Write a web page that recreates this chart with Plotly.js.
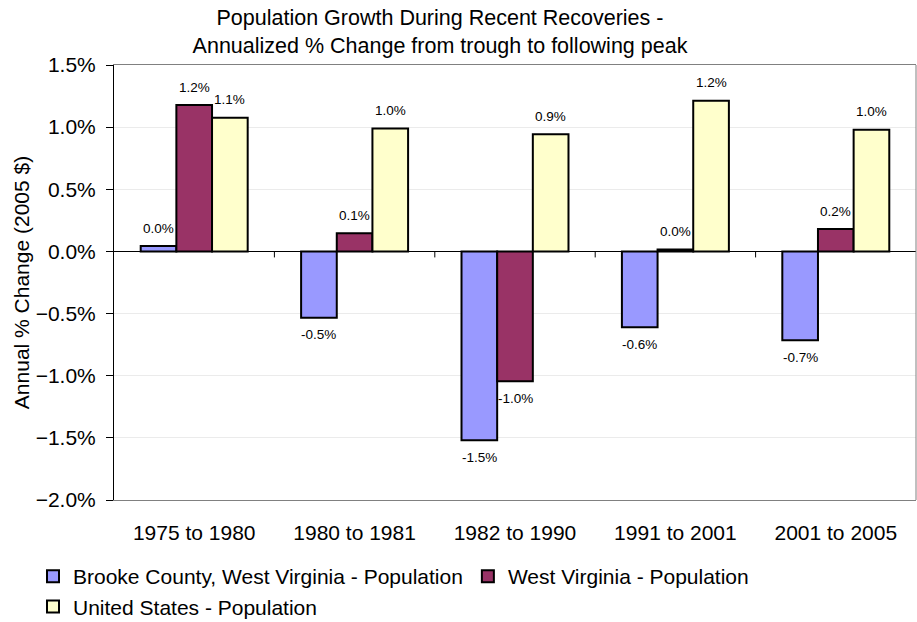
<!DOCTYPE html>
<html>
<head>
<meta charset="utf-8">
<script src="https://cdn.plot.ly/plotly-3.0.1.min.js"></script>
<style>html,body{margin:0;padding:0;background:#fff;}#chart{width:917px;height:622px;}</style>
</head>
<body>
<div id="chart"></div>
<script>
// Data
var categories = ["1975 to 1980", "1980 to 1981", "1982 to 1990", "1991 to 2001", "2001 to 2005"];
var seriesNames = ["Brooke County, West Virginia - Population", "West Virginia - Population", "United States - Population"];
var brookeValues = [0.00043, -0.00533, -0.0152, -0.00611, -0.00715];
var wvValues = [0.01178, 0.00146, -0.01045, 0.00016, 0.0018];
var usValues = [0.01076, 0.0099, 0.00942, 0.01212, 0.00979];
var yTickValues = [-0.02, -0.015, -0.01, -0.005, 0, 0.005, 0.01, 0.015];

var colors = ["#9999FF", "#993366", "#FFFFCC"];
var allValues = [brookeValues, wvValues, usValues];
var FONT = "Liberation Sans, Arial, sans-serif";

var W = 917, H = 622;
var margin = {l: 114, r: 1, t: 65, b: 122, autoexpand: false};
var plotW = W - margin.l - margin.r;
var plotH = H - margin.t - margin.b;
var bargap = 0.333;
var barPx = plotW / categories.length * (1 - bargap) / allValues.length;

var traces = allValues.map(function (vals, k) {
  return {
    type: "bar",
    name: seriesNames[k],
    x: categories,
    y: vals,
    marker: {color: colors[k], line: {color: "#000000", width: 2}},
    hoverinfo: "skip"
  };
});

var annotations = [];
allValues.forEach(function (vals, k) {
  vals.forEach(function (v, i) {
    annotations.push({
      x: categories[i], y: v, xref: "x", yref: "y",
      text: (v * 100).toFixed(1) + "%",
      showarrow: false,
      xshift: (k - 1) * barPx,
      yshift: v >= 0 ? 18 : -17,
      xanchor: "center", yanchor: "middle",
      font: {family: FONT, size: 13.5, color: "#000"}
    });
  });
});

var shapes = [];
for (var i = 1; i < categories.length; i++) {
  shapes.push({type: "line", xref: "x", yref: "y", ysizemode: "pixel", yanchor: 0,
    x0: i - 0.5, x1: i - 0.5, y0: 0, y1: -6, line: {color: "#000", width: 1}});
}
shapes.push({type: "line", xref: "paper", yref: "paper", x0: 1, x1: 1, y0: 0, y1: 1,
  line: {color: "#808080", width: 1}});

var layout = {
  width: W, height: H,
  margin: margin,
  paper_bgcolor: "#ffffff", plot_bgcolor: "#ffffff",
  font: {family: FONT, size: 21, color: "#000"},
  barmode: "group", bargap: bargap, bargroupgap: 0,
  showlegend: true,
  title: {
    text: "Population Growth During Recent Recoveries -<br>Annualized % Change from trough to following peak",
    font: {family: FONT, size: 21.5, color: "#000"},
    xref: "container", yref: "container",
    x: 440 / W, xanchor: "center",
    y: 1 - 25 / H, yanchor: "middle"
  },
  xaxis: {
    type: "category",
    showgrid: false, zeroline: false,
    showline: true, mirror: true, linecolor: "#808080", linewidth: 1,
    ticks: "", ticklabelstandoff: 14,
    tickfont: {family: FONT, size: 21, color: "#000"},
    fixedrange: true
  },
  yaxis: {
    range: [-0.02, 0.015],
    tickvals: yTickValues,
    tickformat: ".1%",
    showgrid: true, gridcolor: "#ebebeb", gridwidth: 1,
    zeroline: true, zerolinecolor: "#000", zerolinewidth: 1,
    showline: true, linecolor: "#000", linewidth: 1, mirror: false,
    ticks: "outside", ticklen: 7, tickcolor: "#000",
    ticklabelstandoff: 6,
    tickfont: {family: FONT, size: 21, color: "#000"},
    title: {text: "Annual % Change (2005 $)", font: {family: FONT, size: 21, color: "#000"}, standoff: 0},
    fixedrange: true
  },
  legend: {
    orientation: "h",
    xref: "paper", yref: "paper",
    x: (33 - margin.l) / plotW, xanchor: "left",
    y: -(556 - (H - margin.b)) / plotH, yanchor: "top",
    font: {family: FONT, size: 21, color: "#000"},
    bgcolor: "rgba(0,0,0,0)",
    traceorder: "normal"
  },
  annotations: annotations,
  shapes: shapes
};

Plotly.newPlot("chart", traces, layout, {displayModeBar: false, staticPlot: true});
</script>
</body>
</html>
